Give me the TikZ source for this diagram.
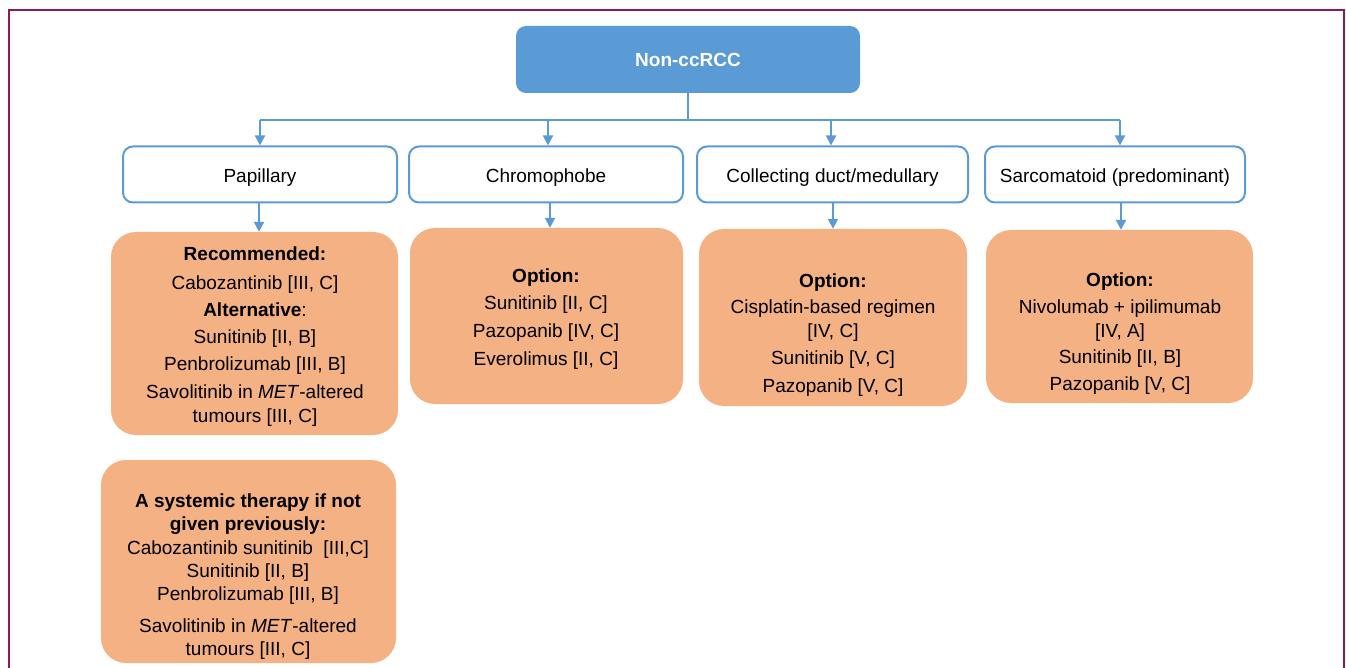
\documentclass[tikz,border=0pt]{standalone}
\usepackage{fontspec}
\setmainfont{Liberation Sans}
\usetikzlibrary{arrows.meta}
\definecolor{rootblue}{HTML}{5B9BD5}
\definecolor{peach}{HTML}{F4B183}
\definecolor{framec}{HTML}{8B1A5A}
\begin{document}
\begin{tikzpicture}[x=1pt,y=-1pt,
 rootbox/.style={draw=none, fill=rootblue, rounded corners=10pt, minimum width=344pt, minimum height=67pt, text=white, font=\fontsize{19}{23}\selectfont\bfseries},
 catbox/.style={draw=rootblue, line width=2pt, fill=white, rounded corners=10pt, minimum height=56pt, text height=20pt, text depth=4.4pt, font=\fontsize{19}{23}\selectfont},
 optbox/.style={fill=peach, rounded corners=25pt, draw=none},
 opttext/.style={align=center, font=\fontsize{19}{24}\selectfont, inner sep=0pt},
 conn/.style={draw=rootblue, line width=2pt},
 arr/.style={conn, -{Triangle[width=10pt,length=10pt]}},
 framestyle/.style={draw=framec, line width=2pt}
]
\useasboundingbox (0,0) rectangle (1346,668);
\draw[framestyle] (9,668) -- (9,10) -- (1344,10) -- (1344,668);

\node[rootbox] (root) at (688,59.5) {Non-ccRCC};

\node[catbox, minimum width=274pt] (pap) at (260,174.5) {Papillary};
\node[catbox, minimum width=274pt] (chr) at (546,174.5) {Chromophobe};
\node[catbox, minimum width=271pt] (col) at (832.5,174.5) {Collecting duct/medullary};
\node[catbox, minimum width=260pt] (sar) at (1115,174.5) {Sarcomatoid (predominant)};

\coordinate (bus) at (688,120);
\coordinate (pbus) at (260,120);
\coordinate (cbus) at (548,120);
\coordinate (obus) at (831,120);
\coordinate (sbus) at (1120,120);
\draw[conn] (root.south) -- (bus);
\draw[conn] (pbus) -- (sbus);
\draw[arr] (pbus) -- (pbus |- pap.north);
\draw[arr] (cbus) -- (cbus |- chr.north);
\draw[arr] (obus) -- (obus |- col.north);
\draw[arr] (sbus) -- (sbus |- sar.north);

\node[optbox, minimum width=287pt, minimum height=203pt] (paprec) at (254.5,333.5) {};
\node[optbox, minimum width=273pt, minimum height=176pt] (chropt) at (546.5,316) {};
\node[optbox, minimum width=268pt, minimum height=177pt] (colopt) at (833,317.5) {};
\node[optbox, minimum width=267pt, minimum height=173pt] (saropt) at (1119.5,316.5) {};
\node[optbox, minimum width=295pt, minimum height=203pt] (pap2) at (248.5,561.5) {};

\coordinate (pa) at (259,0);
\coordinate (ca) at (550,0);
\coordinate (oa) at (833,0);
\coordinate (sa) at (1121,0);
\draw[arr] (pa |- pap.south) -- (pa |- paprec.north);
\draw[arr] (ca |- chr.south) -- (ca |- chropt.north);
\draw[arr] (oa |- col.south) -- (oa |- colopt.north);
\draw[arr] (sa |- sar.south) -- (sa |- saropt.north);

\node[opttext] (paprect) at (255,337) {\textbf{Recommended:}\\[5pt]
Cabozantinib [III, C]\\[3pt]
\textbf{Alternative}:\\[3pt]
Sunitinib [II, B]\\[3pt]
Penbrolizumab [III, B]\\[4pt]
Savolitinib in \textit{MET}-altered\\
tumours [III, C]};

\node[opttext] (chrt) at (546,319.5) {\textbf{Option:}\\[3pt]
Sunitinib [II, C]\\[4pt]
Pazopanib [IV, C]\\[4pt]
Everolimus [II, C]};

\node[opttext] (colt) at (833,335.5) {\textbf{Option:}\\[2pt]
Cisplatin-based regimen\\
\mbox{[IV, C]}\\[3pt]
Sunitinib [V, C]\\[4pt]
Pazopanib [V, C]};

\node[opttext] (sart) at (1120,334) {\textbf{Option:}\\[3pt]
Nivolumab + ipilimumab\\
\mbox{[IV, A]}\\[2pt]
Sunitinib [II, B]\\[3pt]
Pazopanib [V, C]};

\node[opttext, font=\fontsize{19}{23}\selectfont] (pap2t) at (248,577) {\textbf{A systemic therapy if not}\\
\textbf{given previously:}\\[1pt]
Cabozantinib sunitinib\ \ [III,C]\\
Sunitinib [II, B]\\
Penbrolizumab [III, B]\\[9pt]
Savolitinib in \textit{MET}-altered\\
tumours [III, C]};
\end{tikzpicture}
\end{document}
